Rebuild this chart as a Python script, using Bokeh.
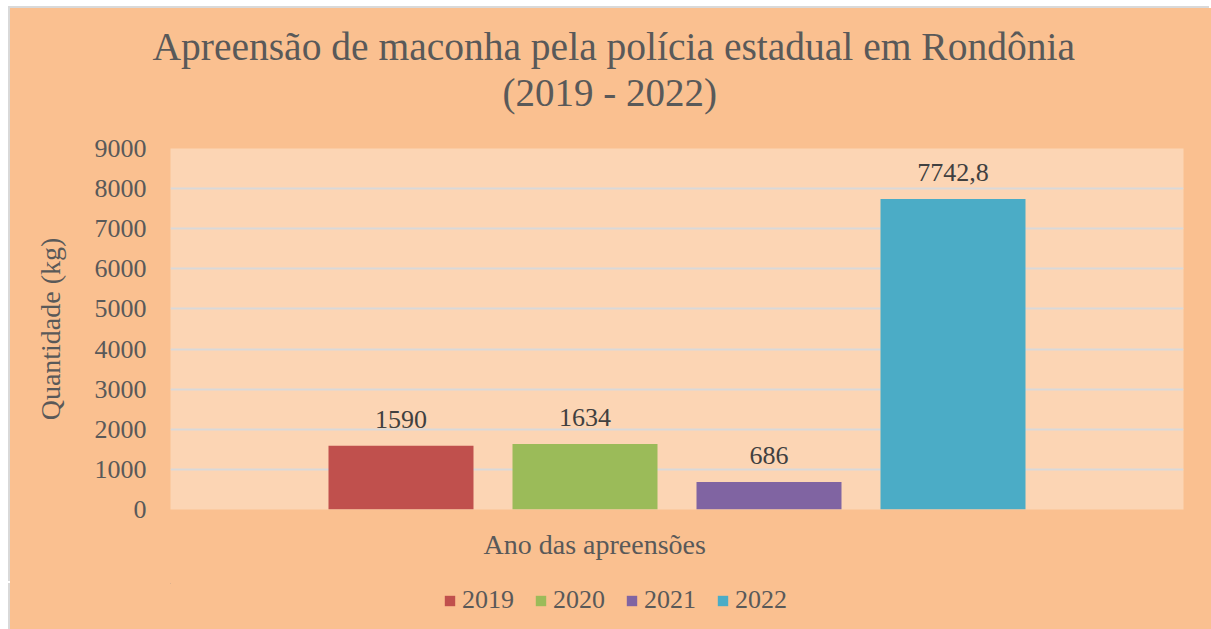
from bokeh.plotting import figure
from bokeh.layouts import column
from bokeh.models import ColumnDataSource, Range1d, SingleIntervalTicker, Title, Legend, LegendItem
from bokeh.core.properties import value
from bokeh.embed import file_html
from bokeh.resources import INLINE

# ---- data ----
years = ["2019", "2020", "2021", "2022"]
quantities = [1590, 1634, 686, 7742.8]
colors = ["#C0504D", "#9BBB59", "#8064A2", "#4BACC6"]
title_lines = ["Apreensão de maconha pela polícia estadual em Rondônia", "(2019 - 2022)"]
y_label = "Quantidade (kg)"
x_label = "Ano das apreensões"
y_max = 9000
y_step = 1000

FONT = "Liberation Serif"
TXT = "#595959"
OUTER = "#FAC090"
BORDER = "#D9D9D9"

src = ColumnDataSource(dict(
    x=list(range(len(years))),
    value=quantities,
    color=colors,
    year=years,
    label=[f"{v:g}".replace(".", ",") for v in quantities],
))

XR0, XR1 = -1.2527, 4.2527

p = figure(frame_width=1013, frame_height=361,
           x_range=Range1d(XR0, XR1), y_range=Range1d(0, y_max),
           output_backend="svg", toolbar_location=None,
           x_axis_location=None,
           min_border_left=160, min_border_right=28,
           min_border_top=140, min_border_bottom=74,
           background_fill_color="#FCD5B4", border_fill_alpha=0,
           outline_line_color=None)
p.margin = (8, 0, 0, 10)
p.styles = {"background-color": OUTER, "box-shadow": f"-2px -2px 0 0 {BORDER}"}

r = p.vbar(x="x", top="value", width=0.788, source=src,
           fill_color="color", line_color=None)

p.text(x="x", y="value", text="label", source=src,
       text_align="center", text_baseline="alphabetic", y_offset=-26,
       text_font=value(FONT), text_font_size="26px", text_color="#404040")

# grid
p.xgrid.visible = False
p.ygrid.ticker = SingleIntervalTicker(interval=y_step)
p.ygrid.grid_line_color = BORDER
p.ygrid.grid_line_width = 2

# y axis
ax = p.yaxis[0]
ax.ticker = SingleIntervalTicker(interval=y_step)
ax.axis_line_color = None
ax.major_tick_line_color = None
ax.minor_tick_line_color = None
ax.major_label_standoff = 18
ax.major_label_text_font = FONT
ax.major_label_text_font_size = "26px"
ax.major_label_text_color = TXT
ax.axis_label = y_label
ax.axis_label_standoff = 26
ax.axis_label_text_font = FONT
ax.axis_label_text_font_size = "28px"
ax.axis_label_text_font_style = "normal"
ax.axis_label_text_color = TXT

# spacer between frame and the two title lines
p.add_layout(Title(text=" ", standoff=32, text_font_size="1px"), "above")
p.add_layout(Title(text=title_lines[1], align="left", offset=332, standoff=0,
                   text_font=FONT, text_font_size="39px", text_font_style="normal",
                   text_color=TXT), "above")
p.add_layout(Title(text=title_lines[0], align="left", offset=-18, standoff=0,
                   text_font=FONT, text_font_size="39.5px", text_font_style="normal",
                   text_color=TXT), "above")

# x axis title
p.add_layout(Title(text=x_label, align="left", offset=313, standoff=34,
                   text_font=FONT, text_font_size="28px", text_font_style="normal",
                   text_color=TXT), "below")

# ---- legend strip (continuation of the chart area) ----
p2 = figure(width=1201, height=46, output_backend="svg", toolbar_location=None,
            x_axis_location=None, y_axis_location=None,
            x_range=Range1d(100, 101), y_range=Range1d(-2, -1),
            min_border_left=0, min_border_right=0, min_border_top=0, min_border_bottom=0,
            background_fill_alpha=0, border_fill_alpha=0,
            outline_line_color=None)
p2.margin = (0, 0, 0, 10)
p2.styles = {"background-color": OUTER,
             "box-shadow": f"0 -3px 0 0 {OUTER}, -2px 0 0 0 {BORDER}"}
p2.grid.visible = False

# same series, far outside this strip's visible range: only used for the legend swatches
r2 = p2.vbar(x="x", top="value", width=0.788, source=src,
             fill_color="color", line_color=None)
items = [LegendItem(label=yr, renderers=[r2], index=i) for i, yr in enumerate(years)]

legend = Legend(items=items, location=(273, 14), orientation="horizontal",
                background_fill_alpha=0, border_line_color=None,
                padding=0, margin=0, spacing=20, label_standoff=6,
                glyph_width=13, glyph_height=13, label_height=30,
                label_text_font=FONT, label_text_font_size="26px",
                label_text_color=TXT)
p2.add_layout(legend, "center")

layout = column(p, p2, spacing=0)
open("out.html", "w").write(file_html(layout, INLINE))
